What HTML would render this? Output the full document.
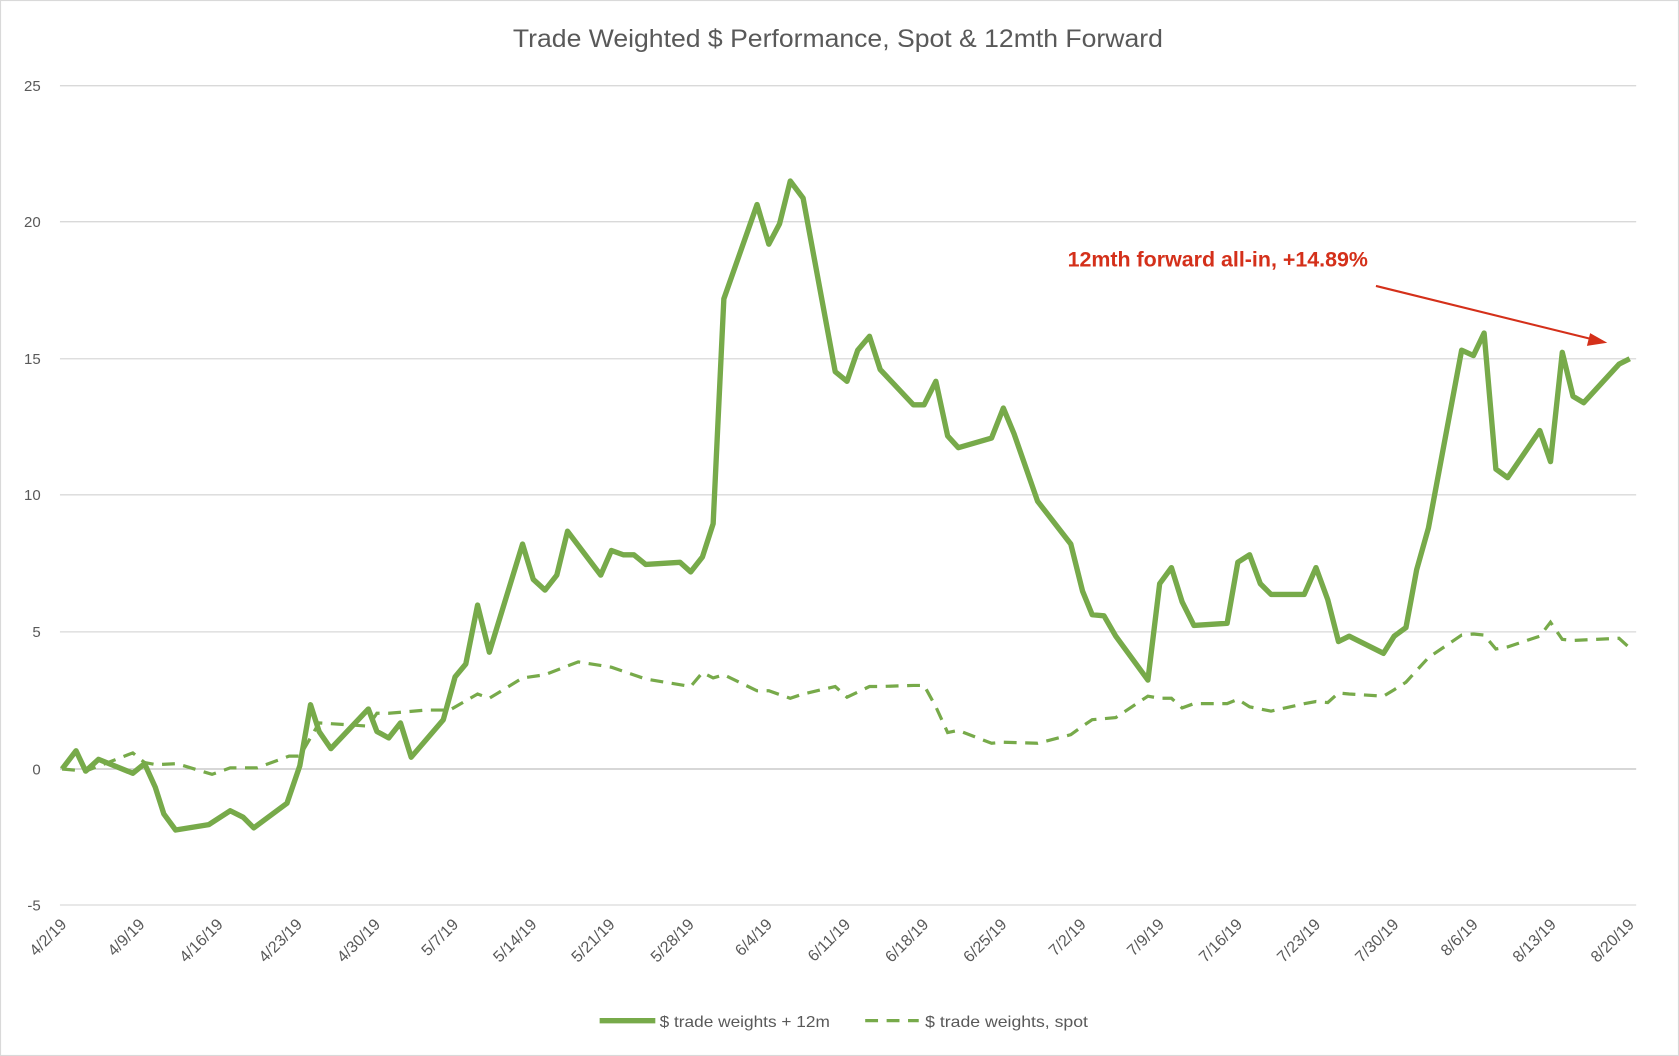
<!DOCTYPE html>
<html><head><meta charset="utf-8"><style>
html,body{margin:0;padding:0;background:#fff;}
svg{display:block;}
text{font-family:"Liberation Sans",sans-serif;}
</style></head><body>
<svg width="1679" height="1056" viewBox="0 0 1568 986" preserveAspectRatio="none">
<rect x="0.5" y="0.5" width="1567" height="985" fill="#fff" stroke="#d9d9d9"/>
<text x="479" y="44" font-size="23" fill="#595959" textLength="607" lengthAdjust="spacingAndGlyphs">Trade Weighted $ Performance, Spot &amp; 12mth Forward</text>
<g stroke="#d9d9d9" stroke-width="1.2">
<line x1="56" x2="1528" y1="80" y2="80"/><line x1="56" x2="1528" y1="207" y2="207"/>
<line x1="56" x2="1528" y1="335" y2="335"/><line x1="56" x2="1528" y1="462" y2="462"/>
<line x1="56" x2="1528" y1="590" y2="590"/><line x1="56" x2="1528" y1="845" y2="845"/>
<line x1="56" x2="1528" y1="718" y2="718" stroke="#bfbfbf"/>
</g>
<g font-size="14" fill="#595959" text-anchor="end">
<text x="38" y="85">25</text><text x="38" y="212">20</text><text x="38" y="340">15</text>
<text x="38" y="467">10</text><text x="38" y="595">5</text><text x="38" y="723">0</text><text x="38" y="850">-5</text>
</g>
<g font-size="15" fill="#595959" text-anchor="end">
<text transform="translate(63,864) rotate(-45)">4/2/19</text>
<text transform="translate(136,864) rotate(-45)">4/9/19</text>
<text transform="translate(209,864) rotate(-45)">4/16/19</text>
<text transform="translate(283,864) rotate(-45)">4/23/19</text>
<text transform="translate(356,864) rotate(-45)">4/30/19</text>
<text transform="translate(429,864) rotate(-45)">5/7/19</text>
<text transform="translate(502,864) rotate(-45)">5/14/19</text>
<text transform="translate(575,864) rotate(-45)">5/21/19</text>
<text transform="translate(649,864) rotate(-45)">5/28/19</text>
<text transform="translate(722,864) rotate(-45)">6/4/19</text>
<text transform="translate(795,864) rotate(-45)">6/11/19</text>
<text transform="translate(868,864) rotate(-45)">6/18/19</text>
<text transform="translate(941,864) rotate(-45)">6/25/19</text>
<text transform="translate(1015,864) rotate(-45)">7/2/19</text>
<text transform="translate(1088,864) rotate(-45)">7/9/19</text>
<text transform="translate(1161,864) rotate(-45)">7/16/19</text>
<text transform="translate(1234,864) rotate(-45)">7/23/19</text>
<text transform="translate(1307,864) rotate(-45)">7/30/19</text>
<text transform="translate(1381,864) rotate(-45)">8/6/19</text>
<text transform="translate(1454,864) rotate(-45)">8/13/19</text>
<text transform="translate(1527,864) rotate(-45)">8/20/19</text>
</g>
<polyline fill="none" stroke="#77aa4a" stroke-width="3" stroke-dasharray="12 8" points="58,718 80,720 124,703 135,712 146,714 165,713 198,723 215,717 240,717 270,706 280,706 298,675 344,678 352,666 363,666 398,663 420,663 446,648 457,652 488,633 509,630 540,618 571,623 603,634 645,641 656,628 666,633 676,630 707,645 718,645 738,652 750,648 780,641 791,651 812,641 822,641 853,640 863,640 874,660 885,684 895,682 926,694 937,693 969,694 1000,686 1011,678 1020,672 1042,670 1072,650 1083,652 1094,652 1104,661 1115,657 1146,657 1156,653 1167,660 1187,664 1218,657 1229,655 1240,656 1250,647 1260,648 1292,650 1302,644 1313,637 1323,626 1334,614 1365,593 1376,592 1386,593 1397,606 1408,604 1438,594 1448,581 1459,597 1469,598 1512,596 1522,605"/>
<polyline fill="none" stroke="#77aa4a" stroke-width="5" stroke-linejoin="round" points="58,718 71,701 80,720 92,709 124,722 135,713 145,735 153,760 164,775 195,770 215,757 227,763 237,773 268,750 280,715 290,658 298,683 309,699 344,662 352,683 363,689 374,675 384,707 414,672 425,632 435,620 446,565 457,609 488,508 498,541 509,551 520,537 530,496 561,537 571,514 582,518 592,518 603,527 635,525 645,534 656,520 666,489 676,279 707,191 718,228 728,209 738,169 750,185 780,347 791,356 801,327 812,314 822,345 853,378 863,378 874,356 885,407 895,418 926,409 937,381 947,405 969,468 1000,508 1011,552 1020,574 1031,575 1042,594 1072,635 1083,545 1094,530 1104,562 1115,584 1146,582 1156,525 1167,518 1177,545 1187,555 1218,555 1229,530 1240,560 1250,599 1260,594 1292,610 1302,594 1313,586 1323,532 1334,493 1365,327 1376,332 1386,311 1397,438 1408,446 1438,402 1448,431 1459,329 1469,370 1479,376 1512,340 1522,335"/>
<text x="997" y="249" font-size="20" font-weight="bold" fill="#d4301a">12mth forward all-in, +14.89%</text>
<line x1="1285" y1="267" x2="1488" y2="317" stroke="#d4301a" stroke-width="2"/>
<polygon points="1501,320 1485,311 1482,323" fill="#d4301a"/>
<line x1="560" y1="953" x2="612" y2="953" stroke="#77aa4a" stroke-width="5"/>
<text x="616" y="959" font-size="15" fill="#595959" textLength="159" lengthAdjust="spacingAndGlyphs">$ trade weights + 12m</text>
<line x1="808" y1="953" x2="858" y2="953" stroke="#77aa4a" stroke-width="3" stroke-dasharray="12 8"/>
<text x="864" y="959" font-size="15" fill="#595959" textLength="152" lengthAdjust="spacingAndGlyphs">$ trade weights, spot</text>
</svg>
</body></html>
